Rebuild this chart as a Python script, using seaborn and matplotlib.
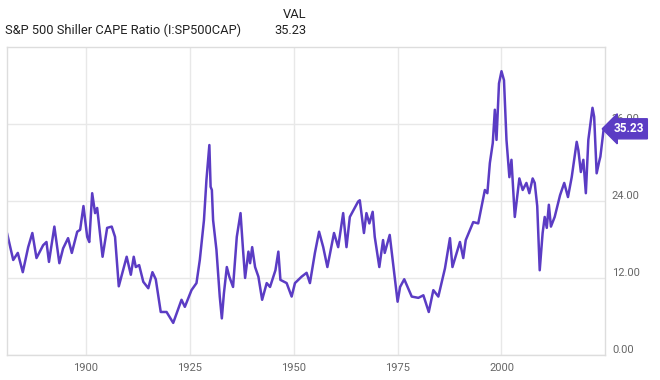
import numpy as np
import pandas as pd
import matplotlib
matplotlib.use("Agg")
import matplotlib.pyplot as plt
import seaborn as sns

# CAPE readings (decimal year, ratio)
years = [
    1881.0, 1882.5, 1883.6, 1884.8, 1886.1, 1887.1, 1888.1, 1889.7, 1890.5, 1891.1,
    1892.4, 1893.6, 1894.5, 1895.7, 1896.6, 1897.9, 1898.6, 1899.4, 1900.3, 1900.8,
    1901.5, 1902.2, 1902.7, 1904.0, 1905.1, 1906.2, 1907.0, 1907.9, 1909.8, 1910.8,
    1911.5, 1912.0, 1912.8, 1913.8, 1915.0, 1916.0, 1916.8, 1918.0, 1919.4, 1921.0,
    1923.0, 1923.8, 1925.4, 1926.6, 1927.4, 1928.4, 1929.0, 1929.7, 1930.0, 1930.3,
    1930.6, 1931.4, 1932.2, 1932.7, 1933.2, 1933.9, 1934.5, 1935.4, 1936.3, 1937.2,
    1937.8, 1938.3, 1939.1, 1939.5, 1940.0, 1940.7, 1941.5, 1942.4, 1943.5, 1944.3,
    1945.6, 1946.3, 1946.8, 1948.3, 1949.5, 1950.3, 1951.9, 1953.1, 1953.9, 1955.1,
    1956.1, 1957.1, 1958.1, 1959.7, 1960.7, 1961.9, 1962.7, 1963.5, 1965.5, 1965.9,
    1966.9, 1967.5, 1968.2, 1969.0, 1969.5, 1970.6, 1971.5, 1971.9, 1973.1, 1973.9,
    1975.0, 1975.6, 1976.6, 1978.4, 1980.0, 1981.2, 1982.5, 1983.6, 1984.8, 1986.4,
    1987.6, 1988.2, 1990.0, 1990.8, 1991.4, 1993.2, 1994.4, 1996.0, 1996.6, 1997.2,
    1997.9, 1998.4, 1998.8, 1999.4, 2000.0, 2000.6, 2001.2, 2001.9, 2002.4, 2003.2,
    2004.3, 2005.1, 2006.0, 2006.7, 2007.5, 2008.0, 2008.6, 2009.2, 2009.9, 2010.4,
    2010.9, 2011.4, 2011.9, 2012.8, 2014.1, 2015.1, 2016.0, 2016.9, 2018.1, 2018.5,
    2019.1, 2019.7, 2020.3, 2020.9, 2021.9, 2022.3, 2022.9, 2023.5, 2023.8, 2024.6,
]
cape = [
    19.0, 14.8, 15.9, 12.9, 16.8, 19.0, 15.1, 17.1, 17.6, 14.5,
    20.0, 14.3, 16.6, 18.2, 15.9, 19.2, 19.5, 23.2, 18.4, 17.6,
    25.2, 22.1, 22.9, 15.3, 19.8, 20.0, 18.4, 10.7, 15.3, 12.5,
    15.3, 13.7, 14.0, 11.4, 10.4, 12.9, 11.8, 6.7, 6.7, 5.0,
    8.6, 7.5, 10.1, 11.2, 14.8, 21.0, 27.3, 32.7, 26.2, 25.7,
    21.0, 16.4, 9.1, 5.7, 9.6, 13.7, 12.2, 10.6, 18.4, 22.1,
    16.4, 12.0, 16.1, 14.3, 16.8, 13.7, 12.2, 8.6, 11.2, 10.6,
    13.2, 16.1, 11.7, 11.2, 9.1, 11.2, 12.2, 12.8, 11.2, 15.9,
    19.2, 16.8, 13.7, 19.0, 16.8, 22.1, 16.8, 21.5, 23.9, 24.1,
    19.0, 22.1, 20.5, 22.3, 18.4, 13.7, 17.9, 15.9, 18.7, 14.3,
    8.3, 10.6, 11.8, 9.1, 8.9, 9.3, 6.7, 10.1, 9.1, 13.5,
    18.2, 13.7, 17.6, 15.1, 17.9, 20.7, 20.5, 25.7, 25.2, 29.9,
    33.0, 38.2, 33.5, 42.3, 44.2, 42.8, 33.5, 27.7, 30.4, 21.5,
    27.5, 25.7, 26.8, 25.2, 27.5, 26.8, 23.2, 13.2, 19.0, 21.5,
    19.8, 23.4, 20.0, 21.5, 24.9, 26.8, 24.6, 27.7, 33.2, 31.9,
    28.5, 30.4, 25.2, 33.5, 38.5, 37.1, 28.3, 30.1, 30.9, 35.23,
]
title = "S&P 500 Shiller CAPE Ratio (I:SP500CAP)"
last_val = "35.23"
x_ticks = [1900, 1925, 1950, 1975, 2000]
y_ticks = [0, 12, 24, 36]

df = pd.DataFrame({"year": years, "cape": cape})

sns.set_style("white")
plt.rcParams["font.family"] = ["Roboto", "DejaVu Sans"]

purple = "#5b3cc4"
grid_c = "#e8e8e8"
tick_c = "#666666"

fig = plt.figure(figsize=(6.6, 3.8), dpi=100)
ax = fig.add_axes([0.0106, 0.0658, 0.906, 0.811])

sns.lineplot(data=df, x="year", y="cape", ax=ax, color=purple, linewidth=1.8)

ax.set_xlim(1881.0, 2024.9)
ax.set_ylim(0, 48)
ax.set_xticks(x_ticks)
ax.set_yticks(y_ticks)
ax.set_yticklabels([f"{v:.2f}" for v in y_ticks])
ax.yaxis.tick_right()
ax.tick_params(axis="both", length=0, labelsize=8, labelcolor=tick_c)
ax.tick_params(axis="x", pad=6)
ax.tick_params(axis="y", pad=5)
for lab in ax.get_yticklabels():
    lab.set_va("bottom")
ax.set_xlabel("")
ax.set_ylabel("")
ax.grid(True, color=grid_c, linewidth=1)
for sp in ax.spines.values():
    sp.set_color("#dddddd")
    sp.set_linewidth(1)

# current value tag on the right
ax.annotate(last_val, xy=(1.0, cape[-1]), xycoords=("axes fraction", "data"),
            xytext=(6, 0), textcoords="offset points", ha="left", va="center",
            fontsize=8.5, fontweight="bold", color="white", zorder=10,
            annotation_clip=False,
            bbox=dict(boxstyle="larrow,pad=0.3", fc=purple, ec=purple))

fig.text(0.008, 0.911, title, fontsize=9.3, color="#222222", ha="left", va="baseline")
fig.text(0.465, 0.953, "VAL", fontsize=9.3, color="#222222", ha="right", va="baseline")
fig.text(0.465, 0.911, last_val, fontsize=9.3, color="#222222", ha="right", va="baseline")

fig.savefig("out.png", dpi=100)
